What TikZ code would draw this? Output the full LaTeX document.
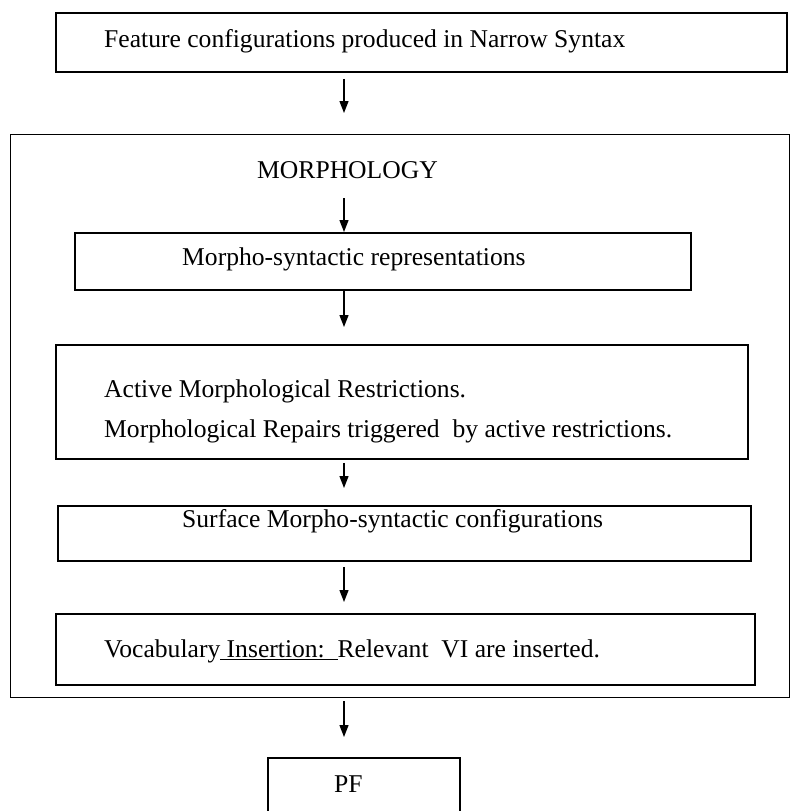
\documentclass[tikz,border=0pt]{standalone}
\usepackage{fontspec}
\setmainfont{Liberation Serif}
\usetikzlibrary{arrows.meta}

\begin{document}
\begin{tikzpicture}[x=1pt, y=-1pt, font=\fontsize{25.6}{30}\selectfont,
    box/.style={draw, line width=1.8pt, inner sep=0pt, anchor=north west},
    lbl/.style={inner sep=0pt, anchor=base west},
    arr/.style={-{Triangle[length=12pt,width=9pt]}, line width=1.3pt}]
  \useasboundingbox (0,0) rectangle (790,811);
  \clip (0,0) rectangle (790,811);

  \coordinate (spine) at (344,0);

  % Narrow Syntax
  \node[box, minimum width=731pt, minimum height=59pt] (feat) at (55,12) {};
  \node[lbl] (featlbl) at (104,47) {Feature configurations produced in Narrow Syntax};

  % Morphology
  \node[box, line width=1.4pt, minimum width=779pt, minimum height=563pt] (morph) at (10,134) {};
  \node[lbl] (morphlbl) at (257,178) {MORPHOLOGY};

  \node[box, minimum width=616pt, minimum height=57pt] (msr) at (74,232) {};
  \node[lbl] (msrlbl) at (182,265) {Morpho-syntactic representations};

  \node[box, minimum width=692pt, minimum height=114pt] (restr) at (55,344) {};
  \node[lbl] (restrlbl) at (104,397) {Active Morphological Restrictions.};
  \node[lbl] (repairlbl) at (104,437) {Morphological Repairs triggered\ \ by active restrictions.};

  \node[box, minimum width=693pt, minimum height=55pt] (surf) at (57,505) {};
  \node[lbl] (surflbl) at (182,527) {Surface Morpho-syntactic configurations};

  \node[box, minimum width=699pt, minimum height=71pt] (vocab) at (55,613) {};
  \node[lbl] (vocablbl) at (104,657) {Vocabulary\underline{\ Insertion:\ \ }Relevant\ \ VI are inserted.};

  % PF
  \node[box, minimum width=192pt, minimum height=90pt] (pf) at (267,757) {};
  \node[lbl] (pflbl) at (334,792) {PF};

  % arrows
  \draw[arr, shorten <=6pt, shorten >=21pt] (feat.south -| spine) -- (morph.north -| spine);
  \draw[arr, shorten <=20pt] (morphlbl.south -| spine) -- (msr.north -| spine);
  \draw[arr, shorten >=17pt] (msr.south -| spine) -- (restr.north -| spine);
  \draw[arr, shorten <=3pt, shorten >=17pt] (restr.south -| spine) -- (surf.north -| spine);
  \draw[arr, shorten <=5pt, shorten >=11pt] (surf.south -| spine) -- (vocab.north -| spine);
  \draw[arr, shorten <=3pt, shorten >=20pt] (morph.south -| spine) -- (pf.north -| spine);
\end{tikzpicture}
\end{document}
